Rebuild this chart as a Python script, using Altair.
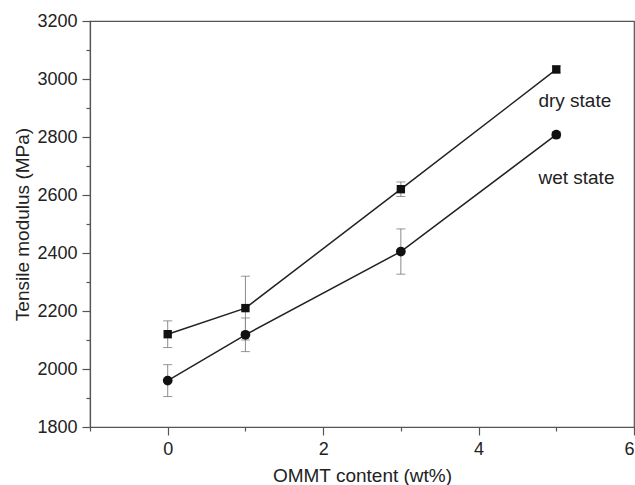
import altair as alt
import pandas as pd

# OMMT loading (wt%) and tensile modulus (MPa) with error half-widths
ommt = [0, 1, 3, 5]
dry_modulus = [2120, 2210, 2620, 3033]
dry_error = [46, 110, 25, 12]
wet_modulus = [1960, 2118, 2405, 2808]
wet_error = [55, 58, 78, 10]

# in-plot series labels
label_text = ["dry state", "wet state"]
label_x = [4.77, 4.77]
label_y = [2925, 2658]

# axis tick values
x_major = [0, 2, 4, 6]
x_minor = [-1, 1, 3, 5]
y_major = list(range(1800, 3201, 200))
y_minor = list(range(1900, 3101, 200))

rows = []
for state, vals, errs in [("dry", dry_modulus, dry_error), ("wet", wet_modulus, wet_error)]:
    for x, v, e in zip(ommt, vals, errs):
        rows.append({"state": state, "x": x, "y": v, "lo": v - e, "hi": v + e})
df = pd.DataFrame(rows)
labels = pd.DataFrame({"text": label_text, "x": label_x, "y": label_y})

FONT = "Liberation Sans"
INK = "#222222"
AXIS_INK = "#555555"

x_scale = alt.Scale(domain=[-1, 6], nice=False, zero=False)
y_scale = alt.Scale(domain=[1800, 3200], nice=False, zero=False)

x_axis = alt.Axis(
    values=x_major, orient="bottom", title="OMMT content (wt%)", grid=False, format="d",
    tickSize=8, tickWidth=1.2, tickColor=AXIS_INK, domainColor=AXIS_INK, domainWidth=1.2,
    labelFont=FONT, labelFontSize=18, labelColor=INK, labelPadding=5,
    titleFont=FONT, titleFontSize=19, titleFontWeight="normal", titleColor=INK, titlePadding=8,
)
y_axis = alt.Axis(
    values=y_major, orient="left", title="Tensile modulus (MPa)", grid=False, format="d",
    tickSize=8, tickWidth=1.2, tickColor=AXIS_INK, domainColor=AXIS_INK, domainWidth=1.2,
    labelFont=FONT, labelFontSize=18, labelColor=INK, labelPadding=5,
    titleFont=FONT, titleFontSize=19, titleFontWeight="normal", titleColor=INK, titlePadding=4,
)

X = alt.X("x:Q", scale=x_scale, axis=x_axis)
Y = alt.Y("y:Q", scale=y_scale, axis=y_axis)

base = alt.Chart(df)

err_rules = base.mark_rule(color="#8c8c8c", strokeWidth=1).encode(
    x=X, y=alt.Y("lo:Q", scale=y_scale, axis=y_axis), y2="hi:Q"
)
cap_lo = base.mark_tick(orient="horizontal", size=9, thickness=1, color="#6a6a6a").encode(
    x=X, y=alt.Y("lo:Q", scale=y_scale, axis=y_axis)
)
cap_hi = base.mark_tick(orient="horizontal", size=9, thickness=1, color="#6a6a6a").encode(
    x=X, y=alt.Y("hi:Q", scale=y_scale, axis=y_axis)
)
lines = base.mark_line(color=INK, strokeWidth=1.5).encode(x=X, y=Y, detail="state:N")
points = base.mark_point(filled=True, opacity=1, color="#111111").encode(
    x=X,
    y=Y,
    shape=alt.Shape("state:N", scale=alt.Scale(domain=["dry", "wet"], range=["square", "circle"]), legend=None),
    size=alt.Size("state:N", scale=alt.Scale(domain=["dry", "wet"], range=[70, 95]), legend=None),
)
texts = alt.Chart(labels).mark_text(
    align="left", baseline="middle", font=FONT, fontSize=19, color=INK
).encode(x=X, y=Y, text="text:N")

main = alt.layer(err_rules, cap_lo, cap_hi, lines, points, texts)

# second, label-free axis pair carrying the minor ticks
minor = base.mark_point(opacity=0).encode(
    x=alt.X("x:Q", scale=x_scale, axis=alt.Axis(
        values=x_minor, orient="bottom", labels=False, domain=False, grid=False,
        tickSize=4, tickWidth=1.2, tickColor=AXIS_INK, title=None)),
    y=alt.Y("y:Q", scale=y_scale, axis=alt.Axis(
        values=y_minor, orient="left", labels=False, domain=False, grid=False,
        tickSize=4, tickWidth=1.2, tickColor=AXIS_INK, title=None)),
)

chart = (
    alt.layer(main, minor)
    .resolve_scale(x="independent", y="independent")
    .properties(
        width=544,
        height=406,
        autosize=alt.AutoSizeParams(type="none"),
        padding={"left": 90, "top": 21, "right": 1, "bottom": 58},
        background="white",
    )
    .configure_view(stroke=AXIS_INK, strokeWidth=1.2)
)

chart.save("out.html", embed_options={"renderer": "svg", "actions": False})
